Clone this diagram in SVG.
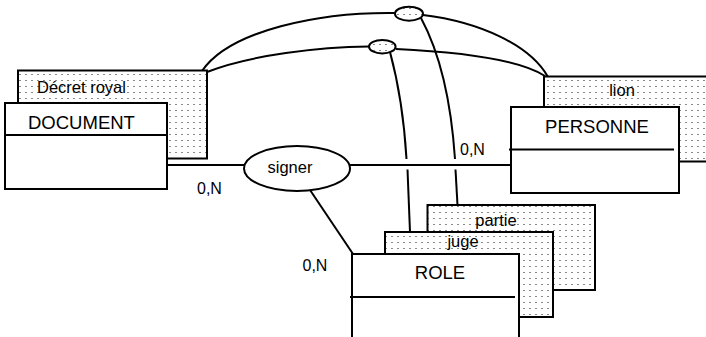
<svg xmlns="http://www.w3.org/2000/svg" width="706" height="337" viewBox="0 0 706 337">
<style>
  .ln{fill:none;stroke:#000;stroke-width:2}
  .box{fill:#fff;stroke:#000;stroke-width:2}
  .shd{fill:url(#dots);stroke:#000;stroke-width:2}
  .t{font-family:"Liberation Sans",Arial,Helvetica,sans-serif;fill:#000}
  .big{font-size:18.5px}
  .sm{font-size:16.5px}
  .card{font-size:16px}
</style>
<defs>
  <pattern id="dots" x="0" y="0" width="6" height="6" patternUnits="userSpaceOnUse">
    <rect width="6" height="6" fill="#fff"/>
    <rect x="1" y="2" width="2" height="1" fill="#8a8a8a"/>
  </pattern>
</defs>
<rect width="706" height="337" fill="#fff"/>

<g id="connectors">
  <!-- outer arc via upper ellipse -->
  <path class="ln" d="M202,71 C230,30 320,12 395,13"/>
  <path class="ln" d="M423,15 C480,22 530,45 548,77"/>
  <!-- inner arc via lower ellipse -->
  <path class="ln" d="M207,72 C250,55 320,47 369,46.5"/>
  <path class="ln" d="M396,49 C460,52 520,60 545,76"/>
  <!-- upper ellipse down to partie (with hop) -->
  <path class="ln" d="M421,18 Q449,70 455,159"/>
  <path class="ln" d="M455.5,169.5 L457.5,205"/>
  <!-- lower ellipse down to juge (with hop) -->
  <path class="ln" d="M390,52 Q403,100 406.5,159"/>
  <path class="ln" d="M407.5,169.5 L410,232"/>
  <!-- signer links -->
  <path class="ln" d="M167,165 L244,165"/>
  <path class="ln" d="M350,165 L511,165"/>
  <path class="ln" d="M308,187 L353,254"/>
</g>

<g id="rel-top1">
  <ellipse class="shd" cx="409" cy="13.7" rx="14" ry="7"/>
</g>
<g id="rel-top2">
  <ellipse class="shd" cx="382.3" cy="46.7" rx="13.3" ry="6.7"/>
</g>

<g id="document">
  <rect class="shd" x="18" y="70.5" width="189" height="88"/>
  <text class="t sm" x="37" y="92.5">Décret royal</text>
  <rect class="box" x="5" y="103" width="162" height="86"/>
  <line class="ln" x1="5" y1="135" x2="167" y2="135"/>
  <text class="t big" x="28" y="129">DOCUMENT</text>
</g>

<g id="personne">
  <rect class="shd" x="544" y="76.5" width="180" height="85"/>
  <text class="t sm" x="622" y="96" text-anchor="middle">lion</text>
  <rect class="box" x="511" y="107" width="168" height="86"/>
  <line class="ln" x1="509" y1="149.5" x2="674" y2="149.5"/>
  <text class="t big" x="597" y="133" text-anchor="middle">PERSONNE</text>
</g>

<g id="role">
  <rect class="shd" x="427.5" y="205" width="167.5" height="85"/>
  <text class="t sm" x="496" y="226" text-anchor="middle">partie</text>
  <rect class="shd" x="385" y="232" width="168" height="85"/>
  <text class="t sm" x="463" y="247" text-anchor="middle">juge</text>
  <rect class="box" x="352" y="254" width="167" height="100"/>
  <line class="ln" x1="350" y1="297" x2="515" y2="297"/>
  <text class="t big" x="440" y="279" text-anchor="middle">ROLE</text>
</g>

<g id="signer">
  <ellipse class="box" cx="297" cy="168.5" rx="53" ry="22.5"/>
  <text class="t sm" x="290" y="173" text-anchor="middle">signer</text>
</g>

<g id="labels">
  <text class="t card" x="197" y="194">0,N</text>
  <text class="t card" x="302.5" y="271">0,N</text>
  <text class="t card" x="460" y="155">0,N</text>
</g>
</svg>
